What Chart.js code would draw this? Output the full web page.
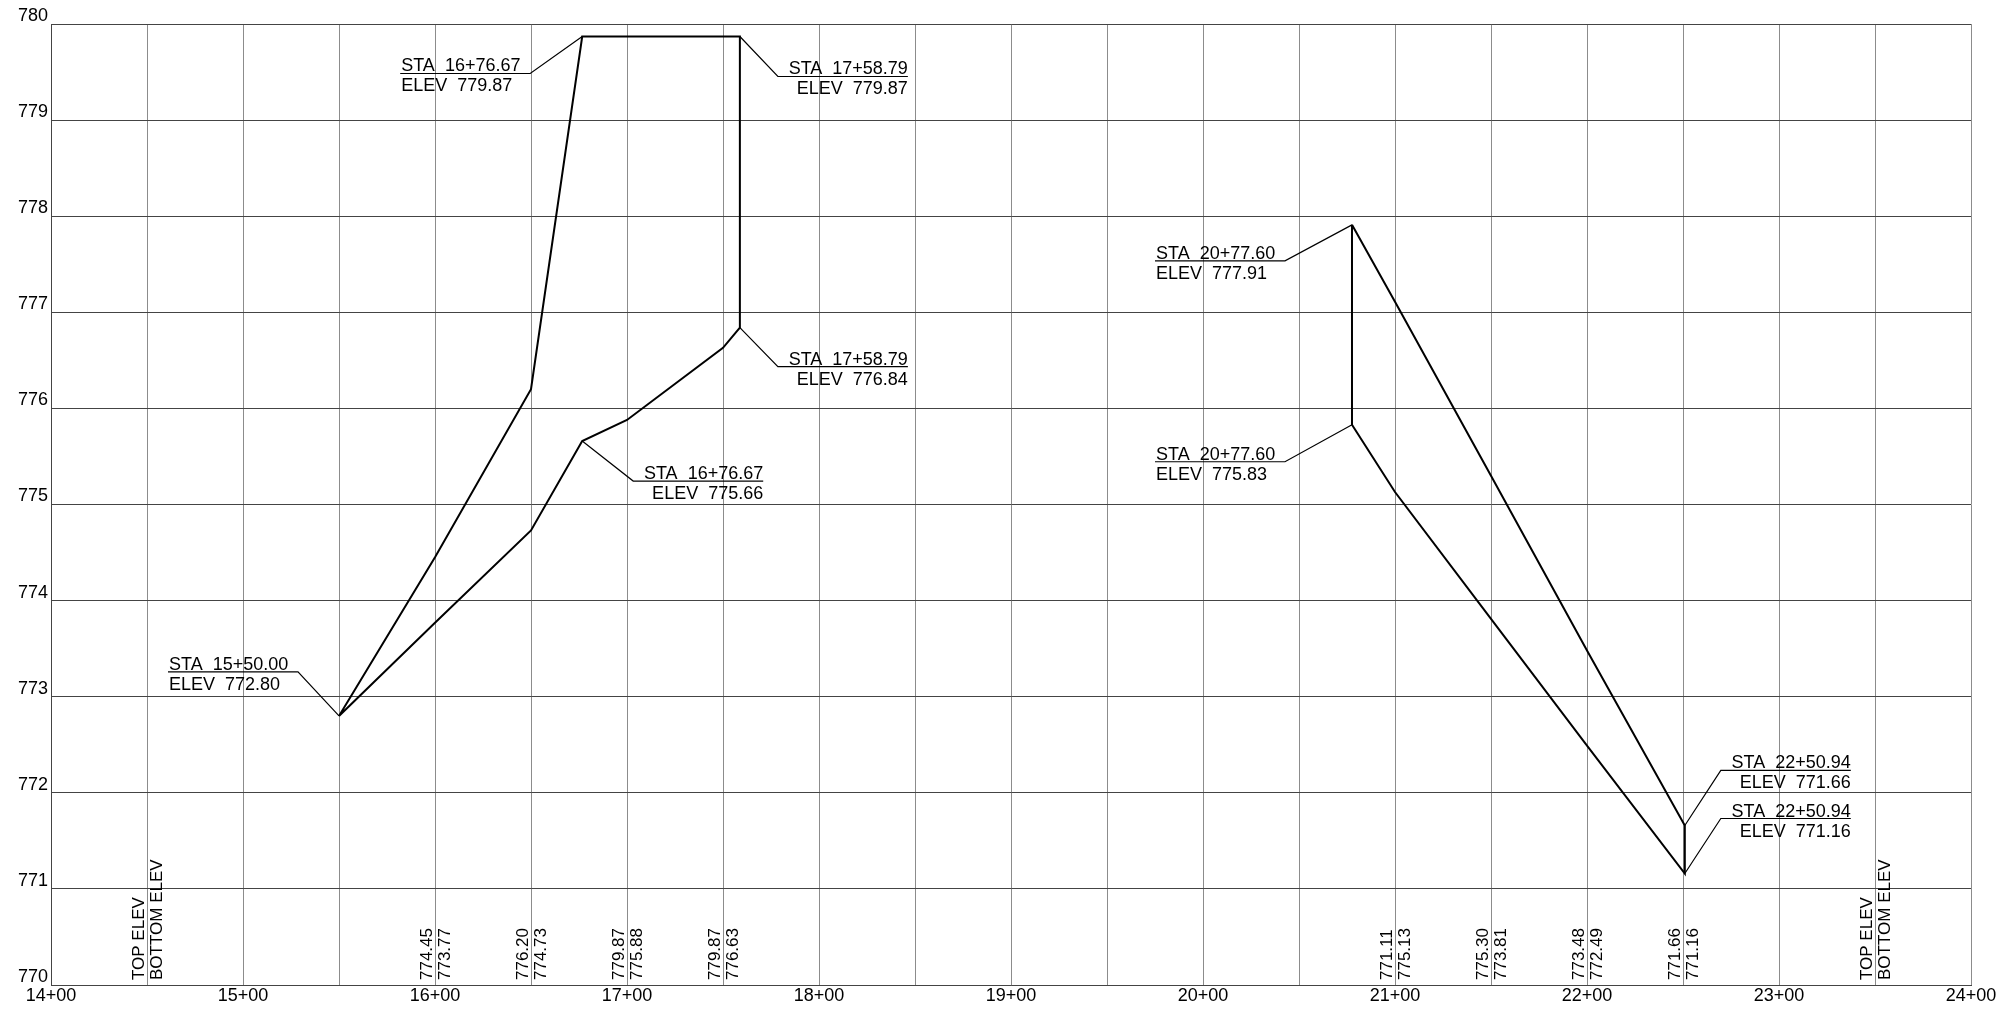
<!DOCTYPE html>
<html>
<head>
<meta charset="utf-8">
<script src="https://cdn.jsdelivr.net/npm/chart.js@4.4.1/dist/chart.umd.min.js"></script>
<style>
  html, body { margin: 0; padding: 0; background: #fff; }
  #profile { display: block; }
</style>
</head>
<body>
<canvas id="profile" width="2005" height="1011"></canvas>
<script>
// stations in feet (1550 = 15+50), elevations in feet
const leftStations = [1550, 1600, 1650, 1676.67, 1700, 1750, 1758.79]
const leftTop = [772.80, 774.45, 776.20, 779.87, 779.87, 779.87, 779.87]
const leftBottom = [772.80, 773.77, 774.73, 775.66, 775.88, 776.63, 776.84]

const rightStations = [2077.60, 2100, 2150, 2200, 2250.94]
const rightTop = [777.91, 777.11, 775.30, 773.48, 771.66]
const rightBottom = [775.83, 775.13, 773.81, 772.49, 771.16]

// elevation strip along the bottom, as printed on the sheet
const stripStations = [1450, 1600, 1650, 1700, 1750, 2100, 2150, 2200, 2250, 2350]
const stripTop = ['TOP ELEV', '774.45', '776.20', '779.87', '779.87', '771.11', '775.30', '773.48', '771.66', 'TOP ELEV']
const stripBottom = ['BOTTOM ELEV', '773.77', '774.73', '775.88', '776.63', '775.13', '773.81', '772.49', '771.16', 'BOTTOM ELEV']

// labelled points
const calloutStations = [1550, 1676.67, 1758.79, 1758.79, 1676.67, 2077.60, 2077.60, 2250.94, 2250.94]
const calloutElevs = [772.80, 779.87, 779.87, 776.84, 775.66, 777.91, 775.83, 771.66, 771.16]

const stationRange = [1400, 2400]
const elevRange = [770, 780]

// leader knee offset from the point, in px (drawing layout only)
const leaderKnees = [[-41, -44], [-52, 37], [38, 40], [38, 39], [51, 40], [-67, 36], [-67, 37], [36, -55], [36, -55]]
const shelfLength = 130

const FONT = '"Liberation Sans", Arial, sans-serif'

function staLabel(s) {
  const whole = Math.floor(s / 100)
  const rest = (s - whole * 100).toFixed(2).padStart(5, '0')
  return whole + '+' + rest
}

function pts(stations, elevs) {
  return stations.map((s, i) => ({ x: s, y: elevs[i] }))
}

// each structure drawn as one outline: top run, then the bottom run back
const leftOutline = pts(leftStations, leftTop).concat(pts(leftStations, leftBottom).reverse())
const rightOutline = pts(rightStations, rightTop)
  .concat(pts(rightStations, rightBottom).reverse())
  .concat([{ x: rightStations[0], y: rightTop[0] }])

function drawUp(ctx, text, x, y) {
  ctx.save()
  ctx.translate(x, y)
  ctx.rotate(-Math.PI / 2)
  ctx.fillText(text, 0, 0)
  ctx.restore()
}

const profileNotes = {
  id: 'profileNotes',
  afterDatasetsDraw(chart) {
    const { ctx, scales: { x, y } } = chart
    ctx.save()
    ctx.fillStyle = '#000'
    ctx.textBaseline = 'alphabetic'

    // elevation strip
    ctx.font = '17px ' + FONT
    ctx.textAlign = 'left'
    const base = y.getPixelForValue(elevRange[0]) - 5
    stripStations.forEach((s, i) => {
      const gx = x.getPixelForValue(s)
      drawUp(ctx, stripTop[i], gx - 3, base)
      drawUp(ctx, stripBottom[i], gx + 15, base)
    })

    // callouts with leaders
    ctx.font = '18px ' + FONT
    if ('wordSpacing' in ctx) ctx.wordSpacing = '5px'
    ctx.strokeStyle = '#000'
    ctx.lineWidth = 1.2
    calloutStations.forEach((s, i) => {
      const px = x.getPixelForValue(s)
      const py = y.getPixelForValue(calloutElevs[i])
      const [dx, dy] = leaderKnees[i]
      const kx = px + dx, ky = py + dy
      const dir = dx < 0 ? -1 : 1
      const ex = kx + dir * shelfLength
      ctx.beginPath()
      ctx.moveTo(px, py)
      ctx.lineTo(kx, ky)
      ctx.lineTo(ex, ky)
      ctx.stroke()

      ctx.textAlign = dir < 0 ? 'left' : 'right'
      const tx = dir < 0 ? ex + 1 : ex
      ctx.fillText('STA ' + staLabel(s), tx, ky - 2)
      ctx.fillText('ELEV ' + calloutElevs[i].toFixed(2), tx, ky + 18)
    })
    ctx.restore()
  }
}

const profileChart = new Chart(document.getElementById('profile'), {
  type: 'scatter',
  data: {
    datasets: [
      { label: 'Left', data: leftOutline },
      { label: 'Right', data: rightOutline }
    ].map(d => Object.assign(d, {
      showLine: true,
      borderColor: '#000',
      borderWidth: 2,
      borderJoinStyle: 'miter',
      pointRadius: 0,
      pointHoverRadius: 0,
      tension: 0
    }))
  },
  options: {
    responsive: false,
    animation: false,
    layout: { padding: { top: 24, right: 34, left: 0, bottom: 0 } },
    plugins: {
      legend: { display: false },
      tooltip: { enabled: false }
    },
    scales: {
      x: {
        type: 'linear',
        min: stationRange[0],
        max: stationRange[1],
        afterFit: scale => { scale.height = 26 },
        border: { display: true, color: '#444' },
        grid: { color: '#8c8c8c', lineWidth: 1, drawTicks: false },
        ticks: {
          stepSize: 50,
          autoSkip: false,
          maxRotation: 0,
          padding: 0,
          color: '#000',
          font: { family: FONT, size: 18 },
          callback: v => v % 100 === 0 ? Math.floor(v / 100) + '+00' : ''
        }
      },
      y: {
        min: elevRange[0],
        max: elevRange[1],
        afterFit: scale => { scale.width = 51 },
        border: { display: true, color: '#444' },
        grid: { color: '#444', lineWidth: 1, drawTicks: false },
        ticks: {
          stepSize: 1,
          padding: 3,
          labelOffset: -8,
          color: '#000',
          font: { family: FONT, size: 18 }
        }
      }
    }
  },
  plugins: [profileNotes]
})
</script>
</body>
</html>
